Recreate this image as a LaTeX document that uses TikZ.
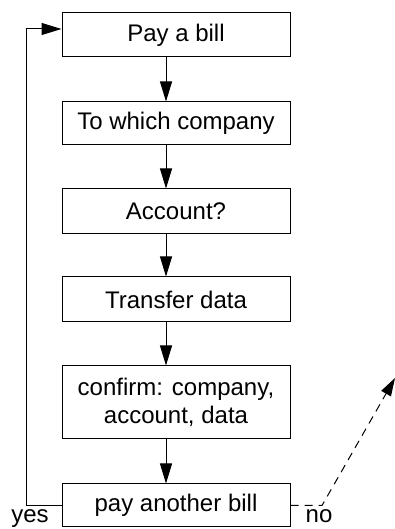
\documentclass[tikz,border=0pt]{standalone}
\usepackage{fontspec}
\setmainfont{Liberation Sans}
\usetikzlibrary{arrows.meta}
\begin{document}
\begin{tikzpicture}[x=1pt,y=1pt,
  conn/.style={line width=1pt},
  arr/.style={conn,-{Triangle[length=20pt,width=12pt]}},
  stepbox/.style={draw,line width=1pt,minimum width=228pt,minimum height=44pt,inner sep=0pt,
    font=\fontsize{24}{28}\selectfont,align=center},
  lbl/.style={font=\fontsize{24}{28}\selectfont,anchor=base,inner sep=0pt}]
\useasboundingbox (0,0) rectangle (395,529);
\node[stepbox] (b1) at (176,494) {Pay a bill};
\node[stepbox,minimum height=43pt] (b2) at (176,405.5) {To which company};
\node[stepbox,minimum height=45pt] (b3) at (176,317.5) {Account?};
\node[stepbox,minimum height=45pt] (b4) at (176,229.5) {Transfer data};
\node[stepbox,minimum height=73pt] (b5) at (176,126.5) {confirm: company,\\account, data};
\node[stepbox,minimum height=43pt] (b6) at (176,23.5) {pay another bill};
\coordinate (ax) at (166,0);
\coordinate (lp) at (26,0);
\coordinate (nbend) at (322,23.5);
\coordinate (nend) at (395,151);
\draw[arr] (b1.south -| ax) -- (b2.north -| ax);
\draw[arr] (b2.south -| ax) -- (b3.north -| ax);
\draw[arr] (b3.south -| ax) -- (b4.north -| ax);
\draw[arr] (b4.south -| ax) -- (b5.north -| ax);
\draw[arr] (b5.south -| ax) -- (b6.north -| ax);
\draw[arr] (b6.west) -- (lp |- b6.west) |- ([yshift=6pt]b1.west);
\draw[conn,dash pattern=on 8pt off 6pt,-{Triangle[length=18pt,width=11pt]}] (b6.east) -- (nbend) -- (nend);
\node[lbl] (yes) at (30,6) {yes};
\node[lbl] (no) at (319,6) {no};
\end{tikzpicture}
\end{document}
